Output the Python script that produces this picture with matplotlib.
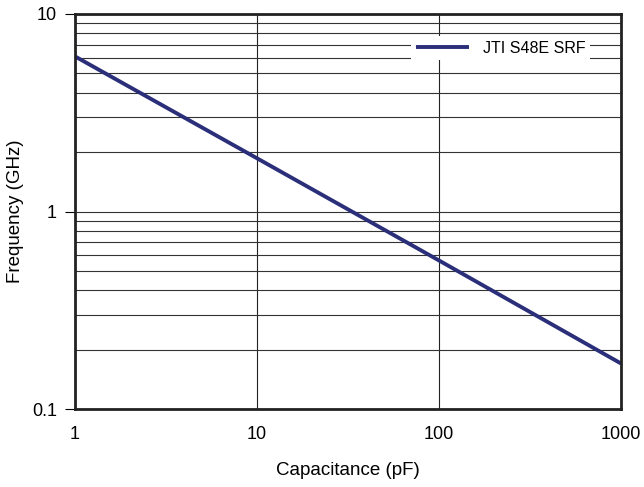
import matplotlib.pyplot as plt
from matplotlib.ticker import LogLocator, FixedLocator, NullLocator, FixedFormatter

plt.rcParams['font.family'] = ['Liberation Sans', 'DejaVu Sans']

capacitance = [1, 10, 100, 1000]
srf = [6.1, 1.86, 0.565, 0.17]

fig = plt.figure(figsize=(6.44, 4.87), dpi=100)
ax = fig.add_axes([75 / 644, 1 - 409 / 487, 546 / 644, 395 / 487])

ax.set_xscale('log')
ax.set_yscale('log')
ax.set_xlim(1, 1000)
ax.set_ylim(0.1, 10)

# grid: vertical at decades, horizontal at every minor step
ax.xaxis.set_major_locator(FixedLocator([1, 10, 100, 1000]))
ax.xaxis.set_major_formatter(FixedFormatter(['1', '10', '100', '1000']))
ax.xaxis.set_minor_locator(NullLocator())
ax.yaxis.set_major_locator(FixedLocator([0.1, 1, 10]))
ax.yaxis.set_major_formatter(FixedFormatter(['0.1', '1', '10']))
ax.yaxis.set_minor_locator(LogLocator(base=10, subs=range(2, 10)))
ax.grid(True, which='major', axis='x', color='#222222', linewidth=0.8)
ax.grid(True, which='both', axis='y', color='#333333', linewidth=0.8)

ax.tick_params(axis='x', which='both', length=0, pad=12, labelsize=13)
ax.tick_params(axis='y', which='major', length=7, width=0.8, direction='out', pad=6, labelsize=13)
ax.tick_params(axis='y', which='minor', length=0)

for s in ax.spines.values():
    s.set_linewidth(2)
    s.set_color('#222222')

ax.plot(capacitance, srf, color='#2b2f7a', linewidth=2.8, label='JTI S48E SRF',
        solid_capstyle='butt')

leg = ax.legend(loc='upper right', bbox_to_anchor=(0.958, 0.965), frameon=True,
                fancybox=False, edgecolor='none', facecolor='white', framealpha=1,
                fontsize=11.5, handlelength=3.3, handletextpad=0.87, borderpad=0.3)

ax.set_xlabel('Capacitance (pF)', fontsize=13.5, labelpad=14)
ax.set_ylabel('Frequency (GHz)', fontsize=13.5)
ax.yaxis.set_label_coords(-0.094, 0.5)

fig.savefig('out.png', dpi=100)
